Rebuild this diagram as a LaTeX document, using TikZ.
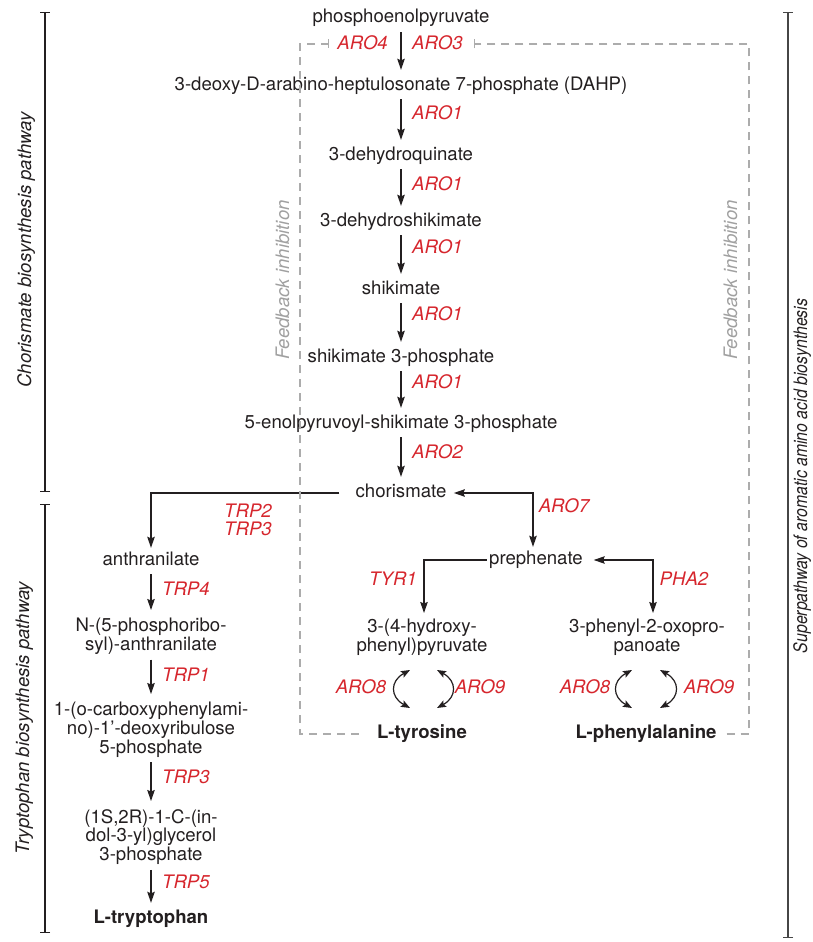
\documentclass[tikz,border=0pt]{standalone}
\usepackage{fontspec}
\setmainfont{TeX Gyre Heros}
\usetikzlibrary{arrows.meta,calc}
\definecolor{ink}{RGB}{35,31,32}
\definecolor{enzred}{RGB}{214,38,45}
\definecolor{fbline}{RGB}{172,172,172}
\definecolor{fbtext}{RGB}{160,160,160}
\definecolor{brkgray}{RGB}{70,70,70}
\newcommand\myfs{\fontsize{18.6}{18.7}\selectfont}
\begin{document}
\begin{tikzpicture}[x=1pt,y=-1pt,
  every node/.style={font=\myfs, text=ink, inner sep=2pt, text height=12pt, text depth=4pt, align=center},
  multil/.style={text height=, text depth=},
  enz/.style={text=enzred, font=\myfs\itshape},
  prod/.style={font=\myfs\bfseries},
  sidelab/.style={rotate=90, font=\myfs\itshape},
  flow/.style={draw=ink, line width=1.2pt, -{Stealth[length=11pt,width=7.5pt,inset=1.5pt]}, shorten <=3pt, shorten >=6pt},
  branch/.style={draw=ink, line width=1.2pt, -{Stealth[length=11pt,width=7.5pt,inset=1.5pt]}},
  both/.style={draw=ink, line width=1.2pt, {Stealth[length=11pt,width=7.5pt,inset=1.5pt]}-{Stealth[length=11pt,width=7.5pt,inset=1.5pt]}},
  cyc/.style={draw=ink, line width=1.2pt, {Stealth[length=9pt,width=7pt,inset=1.5pt]}-{Stealth[length=9pt,width=7pt,inset=1.5pt]}},
  fb/.style={draw=fbline, line width=1.1pt, dash pattern=on 8pt off 6pt, -{Bar[width=9pt]}},
  brk/.style={draw=ink, line width=1.4pt, {Bar[width=10pt]}-{Bar[width=10pt]}}
]
\useasboundingbox (0,0) rectangle (813,942);

% main chorismate pathway
\node (pep) at (401,19) {phosphoenolpyruvate};
\node (dahp) at (401,86) {3-deoxy-D-arabino-heptulosonate 7-phosphate (DAHP)};
\node (dhq) at (401,156) {3-dehydroquinate};
\node (dhs) at (401,222) {3-dehydroshikimate};
\node (shik) at (401,290) {shikimate};
\node (s3p) at (401,358) {shikimate 3-phosphate};
\node (epsp) at (401,424) {5-enolpyruvoyl-shikimate 3-phosphate};
\node (chor) at (401,493) {chorismate};
\node (preph) at (536,560) {prephenate};
\node[multil, anchor=north] (hpp) at (422,617) {3-(4-hydroxy-\\phenyl)pyruvate};
\node[multil, anchor=north] (php) at (647,617) {3-phenyl-2-oxopro-\\panoate};
\node[prod] (tyr) at (422,734) {L-tyrosine};
\node[prod] (phe) at (646,734) {L-phenylalanine};

% tryptophan branch
\node (anth) at (151,561) {anthranilate};
\node[multil, anchor=north] (prpp) at (151,616) {N-(5-phosphoribo-\\syl)-anthranilate};
\node[multil, anchor=north] (cdrp) at (151,700) {1-(o-carboxyphenylami-\\no)-1’-deoxyribulose\\5-phosphate};
\node[multil, anchor=north] (igp) at (151,807) {(1S,2R)-1-C-(in-\\dol-3-yl)glycerol\\3-phosphate};
\node[prod] (trp) at (151,919) {L-tryptophan};

% enzyme labels
\node[enz, anchor=east] (aro4) at (390,45) {ARO4};
\node[enz, anchor=west] (aro3) at (410,45) {ARO3};
\node[enz, anchor=west] (aro1a) at (410,115) {ARO1};
\node[enz, anchor=west] (aro1b) at (410,186) {ARO1};
\node[enz, anchor=west] (aro1c) at (410,249) {ARO1};
\node[enz, anchor=west] (aro1d) at (410,316) {ARO1};
\node[enz, anchor=west] (aro1e) at (410,384) {ARO1};
\node[enz, anchor=west] (aro2) at (410,454) {ARO2};
\node[enz] (aro7) at (564,508) {ARO7};
\node[enz] (tyr1) at (393,581) {TYR1};
\node[enz] (pha2) at (684,581) {PHA2};
\node[enz, multil] (trp23) at (248,520) {TRP2\\TRP3};
\node[enz, anchor=west] (trp4) at (160,591) {TRP4};
\node[enz, anchor=west] (trp1) at (160,677) {TRP1};
\node[enz, anchor=west] (trp3) at (160,779) {TRP3};
\node[enz, anchor=west] (trp5) at (160,884) {TRP5};
\node[enz] (aro8a) at (361,689) {ARO8};
\node[enz] (aro9a) at (480,689) {ARO9};
\node[enz] (aro8b) at (585,689) {ARO8};
\node[enz] (aro9b) at (709,689) {ARO9};

% main arrows
\draw[flow] (pep) -- (dahp);
\draw[flow] (dahp) -- (dhq);
\draw[flow] (dhq) -- (dhs);
\draw[flow] (dhs) -- (shik);
\draw[flow] (shik) -- (s3p);
\draw[flow] (s3p) -- (epsp);
\draw[flow] (epsp) -- (chor);
\draw[branch, shorten <=14pt, shorten >=3pt] (chor.west) -| (anth.north);
\draw[both, shorten <=5.3pt, shorten >=3pt] (chor.east) -| ([xshift=-3pt]preph.north);
\draw[branch, shorten >=4pt] (preph.west) -| ([xshift=2pt]hpp.north);
\draw[both, shorten <=8.7pt, shorten >=4pt] (preph.east) -| ([xshift=6pt]php.north);
\draw[flow] (anth) -- (prpp);
\draw[flow] (prpp) -- (cdrp);
\draw[flow] (cdrp) -- (igp);
\draw[flow] (igp) -- (trp);

% transamination cycles
\coordinate (t1a) at (410,670); \coordinate (t1b) at (410,708);
\coordinate (t2a) at (437,670); \coordinate (t2b) at (437,708);
\coordinate (p1a) at (632,670); \coordinate (p1b) at (632,708);
\coordinate (p2a) at (660,670); \coordinate (p2b) at (660,708);
\draw[cyc] (t1a) .. controls (390,681) and (390,697) .. (t1b);
\draw[cyc] (t2a) .. controls (457,681) and (457,697) .. (t2b);
\draw[cyc] (p1a) .. controls (612,681) and (612,697) .. (p1b);
\draw[cyc] (p2a) .. controls (680,681) and (680,697) .. (p2b);

% feedback inhibition
\coordinate (fbBL) at (300,734); \coordinate (fbTL) at (300,44); \coordinate (fbL) at (329,44);
\coordinate (fbBR) at (749,734); \coordinate (fbTR) at (749,44); \coordinate (fbR) at (474,44);
\draw[fb, shorten <=16pt] (tyr.west) -- (fbBL) -- (fbTL) -- (fbL);
\draw[fb, shorten <=8pt] (phe.east) -- (fbBR) -- (fbTR) -- (fbR);
\node[sidelab, text=fbtext] (fbl) at (285,280) {Feedback inhibition};
\node[sidelab, text=fbtext] (fbr) at (733,280) {Feedback inhibition};

% brackets
\coordinate (b1t) at (45,12); \coordinate (b1b) at (45,492);
\coordinate (b2t) at (45,504); \coordinate (b2b) at (45,933);
\coordinate (b3t) at (788,12); \coordinate (b3b) at (788,938);
\draw[brk] (b1t) -- (b1b);
\draw[brk] (b2t) -- (b2b);
\draw[brk, draw=brkgray] (b3t) -- (b3b);
\node[sidelab] (lab1) at (27,250) {Chorismate biosynthesis pathway};
\node[sidelab] (lab2) at (25,718) {Tryptophan biosynthesis pathway};
\node[sidelab] (lab3) at (803,476) {\scalebox{0.85}[1]{Superpathway of aromatic amino acid biosynthesis}};
\end{tikzpicture}
\end{document}
